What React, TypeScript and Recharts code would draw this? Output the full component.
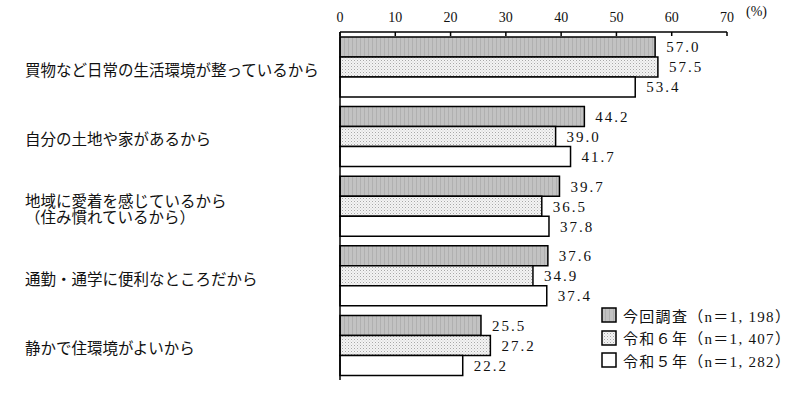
import { BarChart, Bar, XAxis, YAxis, LabelList } from "recharts";

const categories = [
  "買物など日常の生活環境が整っているから",
  "自分の土地や家があるから",
  "地域に愛着を感じているから\n（住み慣れているから）",
  "通勤・通学に便利なところだから",
  "静かで住環境がよいから",
];
const current = [57.0, 44.2, 39.7, 37.6, 25.5];
const r6 = [57.5, 39.0, 36.5, 34.9, 27.2];
const r5 = [53.4, 41.7, 37.8, 37.4, 22.2];
const xTicks = [0, 10, 20, 30, 40, 50, 60, 70];

const series = [
  { key: "current", label: "今回調査（n＝1, 198）", fill: "url(#patGray)" },
  { key: "r6", label: "令和６年（n＝1, 407）", fill: "url(#patDot)" },
  { key: "r5", label: "令和５年（n＝1, 282）", fill: "#ffffff" },
];

const data = categories.map((name, i) => ({
  name,
  current: current[i],
  r6: r6[i],
  r5: r5[i],
}));

const FONT = "'Liberation Serif', 'Noto Sans CJK JP', serif";

function CategoryTick(props: any) {
  const { y, payload } = props;
  const lines = String(payload.value).split("\n");
  const lh = 16;
  const startY = y + 3 - ((lines.length - 1) * lh) / 2;
  return (
    <text x={25} y={startY} fontSize={15.5} fontFamily={FONT} fill="#111" textAnchor="start" dominantBaseline="central">
      {lines.map((l, i) => (
        <tspan key={i} x={25} y={startY + i * lh}>
          {l}
        </tspan>
      ))}
    </text>
  );
}

function LegendBox() {
  return (
    <div style={{ position: "absolute", left: 601, top: 304, fontFamily: FONT, fontSize: 15, color: "#111" }}>
      {series.map((s) => (
        <div key={s.key} style={{ display: "flex", alignItems: "center", height: 22.5, whiteSpace: "nowrap" }}>
          <svg width={16} height={16} style={{ marginRight: 6 }}>
            <rect x={1} y={1} width={14} height={14} fill={s.fill} stroke="#000" strokeWidth={1.5} />
          </svg>
          <span style={{ letterSpacing: 1.3 }}>{s.label}</span>
        </div>
      ))}
    </div>
  );
}

export default function App() {
  return (
    <div style={{ position: "absolute", left: 0, top: 0, width: 800, height: 395, background: "#fff" }}>
      <svg width={0} height={0} style={{ position: "absolute" }}>
        <defs>
          <pattern id="patGray" width={4} height={4} patternUnits="userSpaceOnUse">
            <rect width={4} height={4} fill="#c2c2c2" />
            <rect width={1} height={4} fill="#b0b0b0" />
          </pattern>
          <pattern id="patDot" width={3} height={3} patternUnits="userSpaceOnUse">
            <rect width={3} height={3} fill="#f4f4f4" />
            <rect width={1} height={1} fill="#a8a8a8" />
            <rect x={1.5} y={1.5} width={1} height={1} fill="#c8c8c8" />
          </pattern>
        </defs>
      </svg>
      <BarChart
        width={800}
        height={395}
        data={data}
        layout="vertical"
        margin={{ top: 0, right: 73, bottom: 15, left: 0 }}
        barGap={0}
        barSize={20}
      >
        <XAxis
          type="number"
          orientation="top"
          domain={[0, 70]}
          ticks={xTicks}
          height={32}
          axisLine={{ stroke: "#000", strokeWidth: 1.5 }}
          tickLine={{ stroke: "#000", strokeWidth: 1.5 }}
          tickSize={-4}
          tickMargin={14}
          tick={{ fontSize: 14, fontFamily: FONT, fill: "#111" }}
          interval={0}
        />
        <YAxis
          type="category"
          dataKey="name"
          width={340}
          axisLine={{ stroke: "#000", strokeWidth: 1.5 }}
          tickLine={false}
          tick={<CategoryTick />}
          interval={0}
        />
        {series.map((s) => (
          <Bar
            key={s.key}
            dataKey={s.key}
            name={s.label}
            fill={s.fill}
            stroke="#000"
            strokeWidth={1.5}
            isAnimationActive={false}
          >
            <LabelList
              dataKey={s.key}
              position="right"
              offset={11}
              formatter={(v: any) => Number(v).toFixed(1)}
              style={{ fontSize: 15, fontFamily: FONT, fill: "#111", letterSpacing: 2 }}
            />
          </Bar>
        ))}
      </BarChart>
      <LegendBox />
      <div style={{ position: "absolute", left: 746, top: 4, fontFamily: FONT, fontSize: 14, color: "#111" }}>(%)</div>
    </div>
  );
}
